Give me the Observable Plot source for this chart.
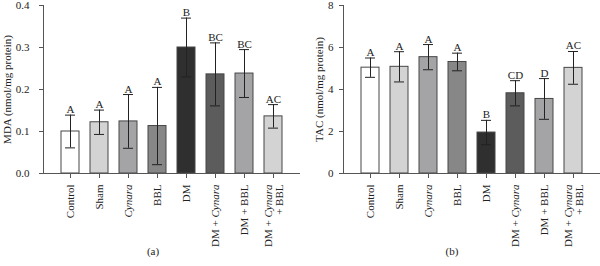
<!DOCTYPE html>
<html>
<head>
<meta charset="utf-8">
<script src="https://cdn.jsdelivr.net/npm/d3@7"></script>
<script src="https://cdn.jsdelivr.net/npm/@observablehq/plot@0.6"></script>
<style>
  html, body { margin: 0; padding: 0; background: #fff; }
  #wrap { display: flex; width: 600px; height: 266px; }
  .panel { position: relative; width: 300px; height: 266px; }
  .panel svg { display: block; }
  .cap { position: absolute; top: 243px; width: 40px; text-align: center;
         font: 11px "Liberation Serif", serif; color: #222; line-height: 16px; }
</style>
</head>
<body>
<div id="wrap"></div>
<script>
// Treatment groups (x categories)
const groups = ["Control", "Sham", "Cynara", "BBL", "DM", "DM + Cynara", "DM + BBL", "DM + Cynara\n+ BBL"];
const barFills = ["#ffffff", "#d3d3d3", "#a4a4a7", "#878787", "#2f2f2f", "#5c5c5c", "#a4a4a7", "#d3d3d3"];

// Panel (a): MDA
const mdaMean = [0.100, 0.122, 0.124, 0.113, 0.300, 0.236, 0.238, 0.136];
const mdaErr = [0.039, 0.029, 0.064, 0.092, 0.070, 0.075, 0.057, 0.028];
const mdaLetters = ["A", "A", "A", "A", "B", "BC", "BC", "AC"];
const mdaTicks = [0, 0.1, 0.2, 0.3, 0.4];

// Panel (b): TAC
const tacMean = [5.04, 5.08, 5.54, 5.31, 1.95, 3.82, 3.55, 5.03];
const tacErr = [0.46, 0.72, 0.60, 0.42, 0.58, 0.60, 0.97, 0.78];
const tacLetters = ["A", "A", "A", "A", "B", "CD", "D", "AC"];
const tacTicks = [0, 2, 4, 6, 8];

const FONT = '"Liberation Serif", "Times New Roman", serif';
const INK = "#222";
const AXIS = "#555";

// Render the genus name in italics wherever it appears in the svg text
function italicizeGenus(svg, word) {
  const ns = "http://www.w3.org/2000/svg";
  svg.querySelectorAll("text, tspan").forEach(el => {
    for (const node of [...el.childNodes]) {
      if (node.nodeType === 3 && node.nodeValue.includes(word)) {
        const parts = node.nodeValue.split(word);
        const frag = document.createDocumentFragment();
        parts.forEach((p, i) => {
          if (i) {
            const t = document.createElementNS(ns, "tspan");
            t.setAttribute("font-style", "italic");
            t.textContent = word;
            frag.append(t);
          }
          if (p) frag.append(document.createTextNode(p));
        });
        el.replaceChild(frag, node);
      }
    }
  });
}

function panel({mean, err, letters, ticks, fmt, title, tickPadding, titleDx, caption, capLeft}) {
  const data = groups.map((g, i) => ({
    g, m: mean[i], lo: mean[i] - err[i], hi: mean[i] + err[i], L: letters[i], f: barFills[i]
  }));
  const svg = Plot.plot({
    width: 300,
    height: 266,
    marginLeft: 43,
    marginRight: 0,
    marginTop: 5,
    marginBottom: 93,
    style: {fontFamily: FONT, fontSize: "11px", color: INK, background: "#fff"},
    x: {domain: groups, range: [60.6, 283.4], paddingInner: 0.373, paddingOuter: 0, align: 0.5},
    y: {domain: [ticks[0], ticks[ticks.length - 1]]},
    color: {type: "identity"},
    marks: [
      Plot.barY(data, {x: "g", y: "m", fill: "f", stroke: "#464646", strokeWidth: 1}),
      Plot.ruleX(data, {x: "g", y1: "lo", y2: "hi", stroke: INK, strokeWidth: 1}),
      Plot.tickY(data, {x: "g", y: "hi", insetLeft: 4, insetRight: 4, stroke: INK, strokeWidth: 1}),
      Plot.tickY(data, {x: "g", y: "lo", insetLeft: 4, insetRight: 4, stroke: INK, strokeWidth: 1}),
      Plot.text(data, {x: "g", y: "hi", text: "L", dy: -2, lineAnchor: "bottom", fontSize: 11, fill: INK}),
      Plot.ruleY([0], {stroke: AXIS, strokeWidth: 1}),
      Plot.frame({anchor: "left", stroke: AXIS, strokeWidth: 1}),
      Plot.axisY({ticks, tickFormat: fmt, tickSize: 4, tickPadding, stroke: AXIS, label: null, fontSize: 11}),
      Plot.axisX({tickRotate: -90, tickSize: 5, tickPadding: 6, stroke: AXIS, label: null, fontSize: 11, lineHeight: 1}),
      Plot.text([title], {frameAnchor: "left", textAnchor: "middle", rotate: -90, dx: titleDx, fontSize: 11, fill: INK})
    ]
  });
  italicizeGenus(svg, "Cynara");
  const div = document.createElement("div");
  div.className = "panel";
  div.append(svg);
  const cap = document.createElement("div");
  cap.className = "cap";
  cap.style.left = (capLeft - 20) + "px";
  cap.textContent = caption;
  div.append(cap);
  return div;
}

const wrap = document.getElementById("wrap");
wrap.append(panel({
  mean: mdaMean, err: mdaErr, letters: mdaLetters, ticks: mdaTicks,
  fmt: d3.format(".1f"), title: "MDA (nmol/mg protein)",
  tickPadding: 10, titleDx: -36.5, caption: "(a)", capLeft: 153
}));
wrap.append(panel({
  mean: tacMean, err: tacErr, letters: tacLetters, ticks: tacTicks,
  fmt: d3.format("d"), title: "TAC (nmol/mg protein)",
  tickPadding: 6, titleDx: -24, caption: "(b)", capLeft: 152
}));
</script>
</body>
</html>
